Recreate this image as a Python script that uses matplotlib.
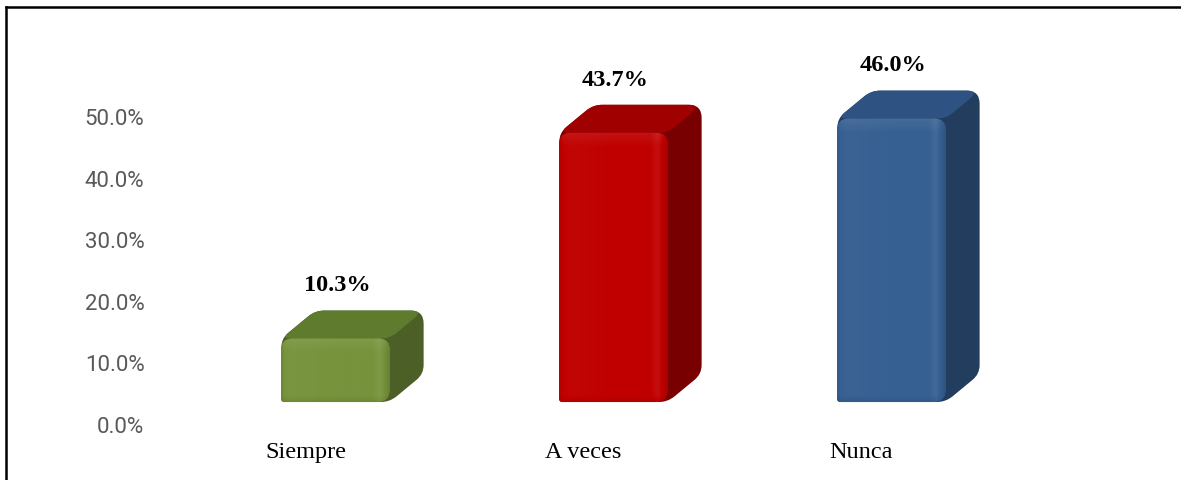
import numpy as np
import matplotlib
matplotlib.use("Agg")
import matplotlib.pyplot as plt
from matplotlib.path import Path
from matplotlib.patches import PathPatch
from matplotlib.lines import Line2D
import matplotlib.transforms as mtransforms
from matplotlib.colors import to_rgb

# ---- data ----
categories = ["Siempre", "A veces", "Nunca"]
values = [10.3, 43.7, 46.0]
value_labels = ["10.3%", "43.7%", "46.0%"]
yticks = [0, 10, 20, 30, 40, 50]
ytick_labels = ["0.0%", "10.0%", "20.0%", "30.0%", "40.0%", "50.0%"]

front_colors = ["#77933C", "#C00000", "#376092"]
side_colors = ["#4C5F26", "#780000", "#233D5E"]
top_colors = ["#5F7B2E", "#A00000", "#2E5383"]

# ---- geometry of the 3-D columns ----
BAR_W = 0.39        # front face width (category units)
DEPTH_X = 0.122     # depth offset to the right
DEPTH_Y = 4.55      # depth offset upwards (percent units)
FLOOR = 3.73        # floor of the columns above the axis zero
RADIUS = 9          # corner rounding in pixels

W, H, DPI = 1181, 480, 100
fig = plt.figure(figsize=(W / DPI, H / DPI), dpi=DPI)
ax = fig.add_axes([150 / W, 10 / H, 1000 / W, 450 / H])
ax.set_xlim((150 - 335.5) / 278, (1150 - 335.5) / 278)
ax.set_ylim((425 - 470) / 6.16, (425 - 20) / 6.16)
ax.set_autoscale_on(False)

MOVETO, LINETO, CURVE3, CLOSE = Path.MOVETO, Path.LINETO, Path.CURVE3, Path.CLOSEPOLY


def rounded_path(pts, radii):
    """Polygon in data coords with corners rounded by radii given in pixels."""
    T = ax.transData
    P = T.transform(np.asarray(pts, float))
    n = len(P)
    verts, codes = [], []
    for i in range(n):
        p, prev, nxt = P[i], P[i - 1], P[(i + 1) % n]
        d1, d2 = prev - p, nxt - p
        l1, l2 = np.hypot(*d1), np.hypot(*d2)
        r = radii[i]
        a = p + d1 / l1 * min(r, l1 / 2)
        b = p + d2 / l2 * min(r, l2 / 2)
        verts.append(a)
        codes.append(MOVETO if i == 0 else LINETO)
        verts += [p, b]
        codes += [CURVE3, CURVE3]
    verts.append(verts[0])
    codes.append(CLOSE)
    return Path(T.inverted().transform(np.array(verts)), codes)


def tint(base, f):
    """Darken (f<1) or lighten (f>1) an RGB array by factor f."""
    f = f[..., None]
    return np.where(f < 1, base * f, base + (1 - base) * (f - 1))


for i, (v, fc, sc, tc) in enumerate(zip(values, front_colors, side_colors, top_colors)):
    x0, x1 = i - BAR_W / 2, i + BAR_W / 2
    b, t = FLOOR, FLOOR + v
    dx, dy = DEPTH_X, DEPTH_Y

    # silhouette (carries the side colour)
    sil = [(x0, b), (x1, b), (x1 + dx, b + dy), (x1 + dx, t + dy), (x0 + dx, t + dy), (x0, t)]
    ax.add_patch(PathPatch(rounded_path(sil, [3, RADIUS, RADIUS, RADIUS + 4, RADIUS, RADIUS]),
                           facecolor=sc, edgecolor="none", zorder=2))
    # top face
    top = [(x0, t), (x1, t), (x1 + dx, t + dy), (x0 + dx, t + dy)]
    ax.add_patch(PathPatch(rounded_path(top, [RADIUS, RADIUS, RADIUS + 4, RADIUS]),
                           facecolor=tc, edgecolor="none", zorder=3))
    # front face with a soft bevel shading
    front = rounded_path([(x0, b), (x1, b), (x1, t), (x0, t)], [3, RADIUS + 4, RADIUS + 2, RADIUS + 2])
    fp = PathPatch(front, facecolor=fc, edgecolor="none", zorder=4)
    ax.add_patch(fp)

    nx, ny = 220, 400
    u = np.linspace(0, 1, nx)
    hprof = np.interp(u, [0, 0.03, 0.1, 0.5, 0.84, 0.91, 0.96, 1.0],
                      [0.9, 1.0, 1.02, 1.0, 1.0, 1.06, 0.96, 0.86])
    hpx = v * 6.16
    s = np.linspace(0, 1, ny) * hpx  # pixels from the top
    vprof = 1 + 0.07 * np.clip(1 - s / 14, 0, 1) - 0.08 * np.clip(1 - (hpx - s) / 6, 0, 1)
    img = tint(np.array(to_rgb(fc)), vprof[:, None] * hprof[None, :])
    im = ax.imshow(np.clip(img, 0, 1), extent=[x0, x1, b, t], origin="upper",
                   aspect="auto", interpolation="bilinear", zorder=4.5)
    im.set_clip_path(fp)

    # value label
    ax.text(i + 0.005, t + dy + 4.0, value_labels[i], ha="center", va="center",
            fontsize=17.5, fontweight="bold", family="Liberation Serif", color="black", zorder=6)

    # category label
    lab_off = mtransforms.ScaledTranslation(-30 / DPI, 0, fig.dpi_scale_trans)
    ax.text(i, -4.4, categories[i], ha="center", va="center", fontsize=17.5,
            family="Liberation Serif", color="black", transform=ax.transData + lab_off)

# ---- axes ----
ax.set_yticks(yticks)
ax.set_yticklabels(ytick_labels, fontsize=16, family="Roboto", color="#595959")
ax.tick_params(axis="y", length=0, pad=4)
ax.set_xticks([])
for sp in ax.spines.values():
    sp.set_visible(False)

# outer frame
fig.add_artist(Line2D([5.5 / W, 5.5 / W], [0, 1 - 7 / H], transform=fig.transFigure,
                      color="black", lw=1.8))
fig.add_artist(Line2D([5.5 / W, 1], [1 - 7 / H, 1 - 7 / H], transform=fig.transFigure,
                      color="black", lw=1.8))

fig.savefig("out.png", dpi=DPI, facecolor="white")
